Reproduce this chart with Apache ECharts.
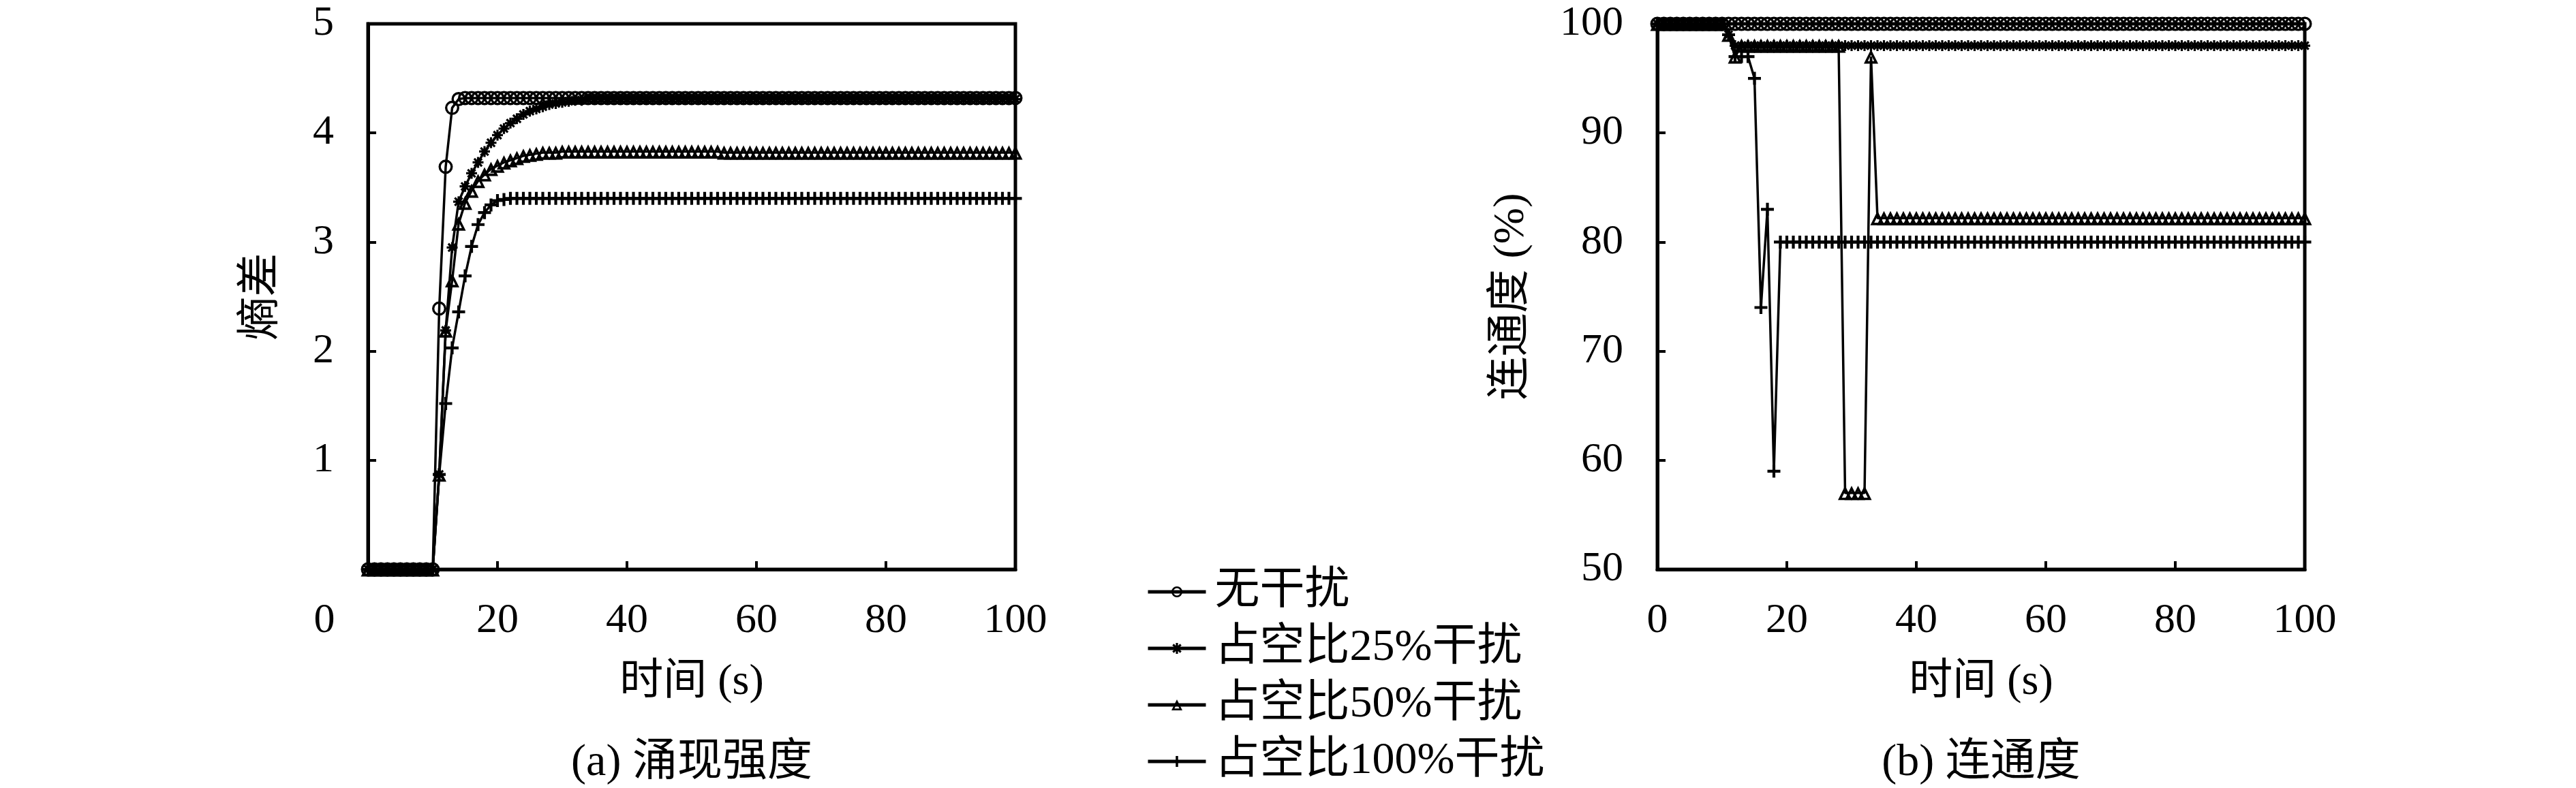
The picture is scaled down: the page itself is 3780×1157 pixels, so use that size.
<!DOCTYPE html>
<html><head><meta charset="utf-8">
<script src="https://cdn.jsdelivr.net/npm/echarts@6/dist/echarts.min.js"></script>
<style>html,body{margin:0;padding:0;background:#fff}#c{width:3780px;height:1157px}</style>
</head><body><div id="c"></div>
<script>
// ---------------- data ----------------
const timeS = [
  0,1,2,3,4,5,6,7,8,9,
  10,11,12,13,14,15,16,17,18,19,
  20,21,22,23,24,25,26,27,28,29,
  30,31,32,33,34,35,36,37,38,39,
  40,41,42,43,44,45,46,47,48,49,
  50,51,52,53,54,55,56,57,58,59,
  60,61,62,63,64,65,66,67,68,69,
  70,71,72,73,74,75,76,77,78,79,
  80,81,82,83,84,85,86,87,88,89,
  90,91,92,93,94,95,96,97,98,99,
  100];
const seriesNames = ['无干扰','占空比25%干扰','占空比50%干扰','占空比100%干扰'];
const xTicks = [0,20,40,60,80,100];
const entropyTicks = [0,1,2,3,4,5];
const connTicks = [50,60,70,80,90,100];

// (a) entropy difference
const entropyNone = [
  0,0,0,0,0,0,0,0,0,0,
  0,2.39,3.69,4.23,4.31,4.32,4.32,4.32,4.32,4.32,
  4.32,4.32,4.32,4.32,4.32,4.32,4.32,4.32,4.32,4.32,
  4.32,4.32,4.32,4.32,4.32,4.32,4.32,4.32,4.32,4.32,
  4.32,4.32,4.32,4.32,4.32,4.32,4.32,4.32,4.32,4.32,
  4.32,4.32,4.32,4.32,4.32,4.32,4.32,4.32,4.32,4.32,
  4.32,4.32,4.32,4.32,4.32,4.32,4.32,4.32,4.32,4.32,
  4.32,4.32,4.32,4.32,4.32,4.32,4.32,4.32,4.32,4.32,
  4.32,4.32,4.32,4.32,4.32,4.32,4.32,4.32,4.32,4.32,
  4.32,4.32,4.32,4.32,4.32,4.32,4.32,4.32,4.32,4.32,
  4.32];
const entropy25 = [
  0,0,0,0,0,0,0,0,0,0,
  0,0.87,2.19,2.95,3.37,3.51,3.63,3.73,3.83,3.91,
  3.98,4.04,4.09,4.13,4.17,4.20,4.22,4.24,4.26,4.27,
  4.28,4.29,4.30,4.30,4.31,4.31,4.31,4.31,4.31,4.31,
  4.31,4.31,4.31,4.31,4.31,4.31,4.31,4.31,4.31,4.31,
  4.31,4.31,4.31,4.31,4.31,4.31,4.31,4.31,4.31,4.31,
  4.31,4.31,4.31,4.31,4.31,4.31,4.31,4.31,4.31,4.31,
  4.31,4.31,4.31,4.31,4.31,4.31,4.31,4.31,4.31,4.31,
  4.31,4.31,4.31,4.31,4.31,4.31,4.31,4.31,4.31,4.31,
  4.31,4.31,4.31,4.31,4.31,4.31,4.31,4.31,4.31,4.31,
  4.31];
const entropy50 = [
  0,0,0,0,0,0,0,0,0,0,
  0,0.87,2.19,2.65,3.17,3.36,3.47,3.56,3.62,3.67,
  3.70,3.73,3.75,3.77,3.79,3.80,3.81,3.82,3.82,3.82,
  3.83,3.83,3.83,3.83,3.83,3.83,3.83,3.83,3.83,3.83,
  3.83,3.83,3.83,3.83,3.83,3.83,3.83,3.83,3.83,3.83,
  3.83,3.83,3.83,3.83,3.83,3.82,3.82,3.82,3.82,3.82,
  3.82,3.82,3.82,3.82,3.82,3.82,3.82,3.82,3.82,3.82,
  3.82,3.82,3.82,3.82,3.82,3.82,3.82,3.82,3.82,3.82,
  3.82,3.82,3.82,3.82,3.82,3.82,3.82,3.82,3.82,3.82,
  3.82,3.82,3.82,3.82,3.82,3.82,3.82,3.82,3.82,3.82,
  3.82];
const entropy100 = [
  0,0,0,0,0,0,0,0,0,0,
  0,0.87,1.52,2.03,2.36,2.69,2.96,3.16,3.27,3.34,
  3.38,3.39,3.40,3.40,3.40,3.40,3.40,3.40,3.40,3.40,
  3.40,3.40,3.40,3.40,3.40,3.40,3.40,3.40,3.40,3.40,
  3.40,3.40,3.40,3.40,3.40,3.40,3.40,3.40,3.40,3.40,
  3.40,3.40,3.40,3.40,3.40,3.40,3.40,3.40,3.40,3.40,
  3.40,3.40,3.40,3.40,3.40,3.40,3.40,3.40,3.40,3.40,
  3.40,3.40,3.40,3.40,3.40,3.40,3.40,3.40,3.40,3.40,
  3.40,3.40,3.40,3.40,3.40,3.40,3.40,3.40,3.40,3.40,
  3.40,3.40,3.40,3.40,3.40,3.40,3.40,3.40,3.40,3.40,
  3.40];

// (b) connectivity (%)
const connNone = [
  100,100,100,100,100,100,100,100,100,100,
  100,100,100,100,100,100,100,100,100,100,
  100,100,100,100,100,100,100,100,100,100,
  100,100,100,100,100,100,100,100,100,100,
  100,100,100,100,100,100,100,100,100,100,
  100,100,100,100,100,100,100,100,100,100,
  100,100,100,100,100,100,100,100,100,100,
  100,100,100,100,100,100,100,100,100,100,
  100,100,100,100,100,100,100,100,100,100,
  100,100,100,100,100,100,100,100,100,100,
  100];
const conn25 = [
  100,100,100,100,100,100,100,100,100,100,
  100,99,98,98,98,98,98,98,98,98,
  98,98,98,98,98,98,98,98,98,98,
  98,98,98,98,98,98,98,98,98,98,
  98,98,98,98,98,98,98,98,98,98,
  98,98,98,98,98,98,98,98,98,98,
  98,98,98,98,98,98,98,98,98,98,
  98,98,98,98,98,98,98,98,98,98,
  98,98,98,98,98,98,98,98,98,98,
  98,98,98,98,98,98,98,98,98,98,
  98];
const conn50 = [
  100,100,100,100,100,100,100,100,100,100,
  100,99,97,98,98,98,98,98,98,98,
  98,98,98,98,98,98,98,98,98,57,
  57,57,57,97,82.2,82.2,82.2,82.2,82.2,82.2,
  82.2,82.2,82.2,82.2,82.2,82.2,82.2,82.2,82.2,82.2,
  82.2,82.2,82.2,82.2,82.2,82.2,82.2,82.2,82.2,82.2,
  82.2,82.2,82.2,82.2,82.2,82.2,82.2,82.2,82.2,82.2,
  82.2,82.2,82.2,82.2,82.2,82.2,82.2,82.2,82.2,82.2,
  82.2,82.2,82.2,82.2,82.2,82.2,82.2,82.2,82.2,82.2,
  82.2,82.2,82.2,82.2,82.2,82.2,82.2,82.2,82.2,82.2,
  82.2];
const conn100 = [
  100,100,100,100,100,100,100,100,100,100,
  100,99,97,97,97,95,74,83,59,80,
  80,80,80,80,80,80,80,80,80,80,
  80,80,80,80,80,80,80,80,80,80,
  80,80,80,80,80,80,80,80,80,80,
  80,80,80,80,80,80,80,80,80,80,
  80,80,80,80,80,80,80,80,80,80,
  80,80,80,80,80,80,80,80,80,80,
  80,80,80,80,80,80,80,80,80,80,
  80,80,80,80,80,80,80,80,80,80,
  80];

// ---------------- styling ----------------
const FONT = "'Liberation Serif', 'Noto Sans CJK SC', serif";
const TICK_FS = 62, NAME_FS = 64, CAP_FS = 66, LEG_FS = 66;

const RING = 'path://M0,-10A10,10,0,1,1,0,10A10,10,0,1,1,0,-10ZM0,-6.8A6.8,6.8,0,1,0,0,6.8A6.8,6.8,0,1,0,0,-6.8Z';
const TRI = 'path://M0,-10L10,8L-10,8ZM0,-3.3L-4.5,4.8L4.5,4.8Z';
const PLUS = 'path://M-2.2,-10L2.2,-10L2.2,-2.2L10,-2.2L10,2.2L2.2,2.2L2.2,10L-2.2,10L-2.2,2.2L-10,2.2L-10,-2.2L-2.2,-2.2Z';
function starPath() {
  let p = 'path://';
  const h = 2.0, L = 10;
  [0, 45, 90, 135].forEach(deg => {
    const a = deg * Math.PI / 180, c = Math.cos(a), s = Math.sin(a);
    const pts = [[L*c - h*s, L*s + h*c], [L*c + h*s, L*s - h*c], [-L*c + h*s, -L*s - h*c], [-L*c - h*s, -L*s + h*c]];
    p += 'M' + pts.map(q => q[0].toFixed(3) + ',' + q[1].toFixed(3)).join('L') + 'Z';
  });
  return p;
}
const STAR = starPath();
const symbols = [RING, STAR, TRI, PLUS];
const symSizes = [21, 16, 21, 19];

function mkSeries(idx, arr, gridIdx) {
  return {
    name: seriesNames[idx], type: 'line', xAxisIndex: gridIdx, yAxisIndex: gridIdx,
    data: timeS.map((t, i) => [t, arr[i]]),
    symbol: symbols[idx], symbolSize: symSizes[idx], showSymbol: true, showAllSymbol: true,
    lineStyle: { color: '#000', width: 3.5 }, itemStyle: { color: '#000' },
    emphasis: { disabled: true }, clip: false, animation: false, z: 2 + idx
  };
}

const tickLabel = { color: '#000', fontSize: TICK_FS, fontFamily: FONT };
const grids = [
  { left: 540, top: 35, width: 950, height: 801 },
  { left: 2432, top: 35, width: 950, height: 801 }
];
function xAxisCfg(g, shiftZero) {
  return {
    gridIndex: g, type: 'value', min: xTicks[0], max: xTicks[xTicks.length - 1], interval: xTicks[1] - xTicks[0],
    axisLine: { show: true, lineStyle: { color: '#000', width: 5 } },
    axisTick: { show: true, inside: true, length: 12, lineStyle: { color: '#000', width: 4 } },
    splitLine: { show: false },
    axisLabel: Object.assign({}, tickLabel, {
      margin: 45, showMinLabel: true, showMaxLabel: true,
      formatter: v => (shiftZero && v === 0) ? '{z|0}' : String(v),
      rich: { z: { fontSize: TICK_FS, fontFamily: FONT, color: '#000', padding: [0, 128, 0, 0] } }
    }),
    name: '时间 (s)', nameLocation: 'middle', nameGap: 134,
    nameTextStyle: { color: '#000', fontSize: NAME_FS, fontFamily: FONT }
  };
}
function yAxisCfg(g, ticks, name, gap, hideMin) {
  return {
    gridIndex: g, type: 'value', min: ticks[0], max: ticks[ticks.length - 1], interval: ticks[1] - ticks[0],
    axisLine: { show: true, lineStyle: { color: '#000', width: 5 } },
    axisTick: { show: true, inside: true, length: 12, lineStyle: { color: '#000', width: 4 } },
    splitLine: { show: false },
    axisLabel: Object.assign({}, tickLabel, { margin: 50, formatter: v => (hideMin && v === ticks[0]) ? '' : String(v) }),
    name: name, nameLocation: 'middle', nameGap: gap, nameRotate: 90,
    nameTextStyle: { color: '#000', fontSize: NAME_FS, fontFamily: FONT }
  };
}

const chart = echarts.init(document.getElementById('c'), null, { renderer: 'canvas' });
chart.setOption({
  animation: false,
  backgroundColor: '#fff',
  grid: grids.map(g => Object.assign({ show: true, borderColor: '#000', borderWidth: 5, backgroundColor: 'transparent' }, g)),
  xAxis: [xAxisCfg(0, true), xAxisCfg(1, false)],
  yAxis: [yAxisCfg(0, entropyTicks, '熵差', 124, true), yAxisCfg(1, connTicks, '连通度 (%)', 182, false)],
  legend: {
    data: seriesNames, orient: 'vertical', left: 1677, top: 831,
    itemWidth: 85, itemHeight: 20, itemGap: 17, selectedMode: false,
    lineStyle: { width: 5 },
    textStyle: { color: '#000', fontSize: LEG_FS, fontFamily: FONT, padding: [0, 0, 0, 8] }
  },
  series: [
    mkSeries(0, entropyNone, 0), mkSeries(1, entropy25, 0), mkSeries(2, entropy50, 0), mkSeries(3, entropy100, 0),
    mkSeries(0, connNone, 1), mkSeries(1, conn25, 1), mkSeries(2, conn50, 1), mkSeries(3, conn100, 1)
  ],
  graphic: [
    { type: 'text', x: 1015, y: 1121, style: { text: '(a) 涌现强度', fontSize: CAP_FS, fontFamily: FONT, fill: '#000', align: 'center', verticalAlign: 'middle' } },
    { type: 'text', x: 2907, y: 1121, style: { text: '(b) 连通度', fontSize: CAP_FS, fontFamily: FONT, fill: '#000', align: 'center', verticalAlign: 'middle' } }
  ]
});
</script></body></html>
